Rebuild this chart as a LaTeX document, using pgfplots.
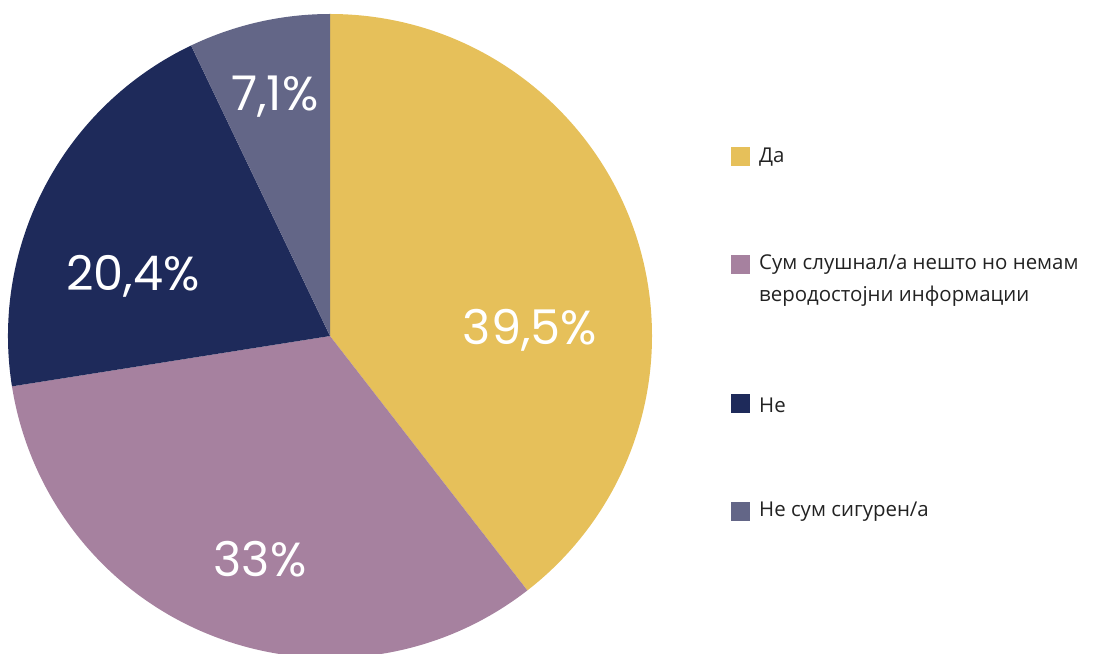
\documentclass[border=0pt]{standalone}
\usepackage{fontspec}
\setmainfont{Open Sans}
\newfontfamily\pctfont{Poppins}
\usepackage{pgfplots}
\pgfplotsset{compat=1.18}
\definecolor{cDa}{HTML}{E6C05A}
\definecolor{cSum}{HTML}{A6819F}
\definecolor{cNe}{HTML}{1E2A5A}
\definecolor{cNeSum}{HTML}{636687}
\definecolor{cTxt}{HTML}{222222}
\begin{document}
\begin{tikzpicture}
\begin{axis}[width=1108bp,height=653bp,scale only axis,
  xmin=0,xmax=1108,ymin=0,ymax=653,hide axis,clip=true]
% values (percent): 39.5, 33, 20.4, 7.1 ; start at top, clockwise
\fill[cDa]    (axis cs:330,317) -- ++(90:322bp) arc[start angle=90, delta angle=-39.5*3.6, radius=322bp] -- cycle;
\fill[cSum]   (axis cs:330,317) -- ++({90-39.5*3.6}:322bp) arc[start angle={90-39.5*3.6}, delta angle=-33*3.6, radius=322bp] -- cycle;
\fill[cNe]    (axis cs:330,317) -- ++({90-72.5*3.6}:322bp) arc[start angle={90-72.5*3.6}, delta angle=-20.4*3.6, radius=322bp] -- cycle;
\fill[cNeSum] (axis cs:330,317) -- ++({90-92.9*3.6}:322bp) arc[start angle={90-92.9*3.6}, delta angle=-7.1*3.6, radius=322bp] -- cycle;
% labels
\tikzset{pct/.style={text=white,font=\pctfont\fontsize{48}{56}\selectfont,inner sep=0pt,anchor=base}}
\node[pct] at (axis cs:530,308) {39,5\%};
\node[pct] at (axis cs:260,77) {33\%};
\node[pct] at (axis cs:133,362) {20,4\%};
\node[pct] at (axis cs:275,542) {7,1\%};
% legend
\tikzset{leg/.style={text=cTxt,font=\fontsize{20.5}{32}\selectfont,inner sep=0pt,anchor=west,align=left}}
\fill[cDa]    (axis cs:731,487) rectangle (axis cs:750,506);
\fill[cSum]   (axis cs:731,379) rectangle (axis cs:750,398);
\fill[cNe]    (axis cs:731,240) rectangle (axis cs:750,259);
\fill[cNeSum] (axis cs:731,132) rectangle (axis cs:750,151);
\node[leg] at (axis cs:759,496) {Да};
\node[leg] at (axis cs:759,372) {Сум слушнал/а нешто но немам\\веродостојни информации};
\node[leg] at (axis cs:759,248) {Не};
\node[leg] at (axis cs:759,141) {Не сум сигурен/а};
\end{axis}
\pgfresetboundingbox
\useasboundingbox (current axis.south west) rectangle (current axis.north east);
\end{tikzpicture}
\end{document}
